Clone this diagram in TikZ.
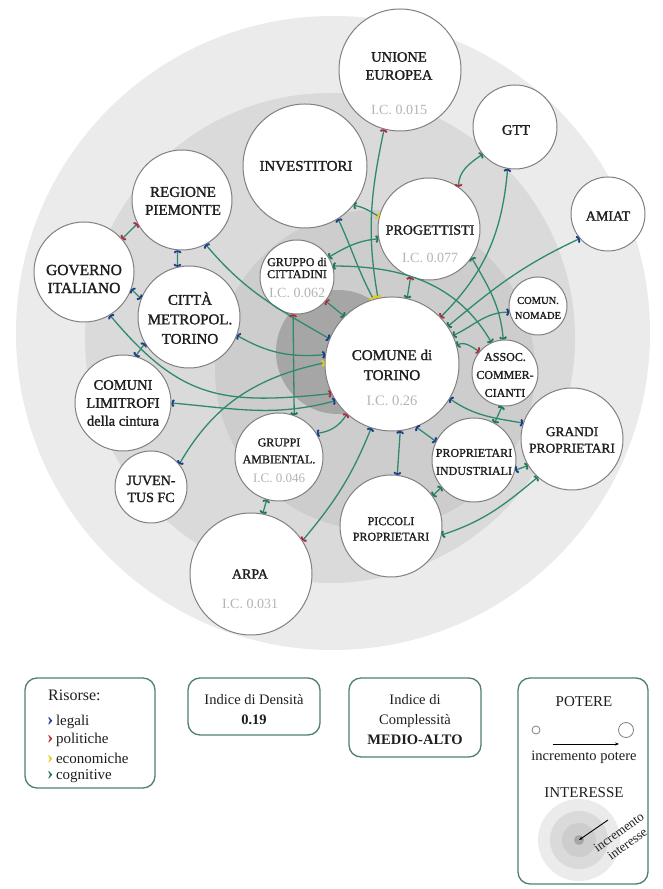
\documentclass[tikz,border=0pt]{standalone}
\usepackage{fontspec}
\setmainfont{Liberation Serif}
\newfontfamily\lblfont[FakeBold=1.4]{Liberation Serif}
\usetikzlibrary{arrows.meta}
\definecolor{bgA}{HTML}{EBEBEB}
\definecolor{bgB}{HTML}{DADADA}
\definecolor{bgC}{HTML}{CDCDCD}
\definecolor{bgD}{HTML}{A6A6A6}
\definecolor{lgreen}{HTML}{2F8A6D}
\definecolor{tipblue}{HTML}{1D3D8A}
\definecolor{tipred}{HTML}{B02A3E}
\definecolor{tipyellow}{HTML}{E9C81C}
\definecolor{tipgreen}{HTML}{23765C}
\definecolor{nodeborder}{HTML}{808080}
\definecolor{labelc}{HTML}{1E1E1E}
\definecolor{icgray}{HTML}{B4B4B4}
\definecolor{boxborder}{HTML}{4F7F73}
\newcommand\lblsz[2]{\lblfont\fontsize{#1}{#2}\selectfont}
\newcommand\txtsz[2]{\fontsize{#1}{#2}\selectfont}
\newcommand\chev[1]{{\fontsize{19}{18}\selectfont\bfseries\textcolor{#1}{›}}}
\tikzset{
  tB/.tip={Arc Barb[color=tipblue,length=2.6pt,width=8pt,line width=1.8pt]},
  tR/.tip={Arc Barb[color=tipred,length=2.6pt,width=8pt,line width=1.8pt]},
  tY/.tip={Arc Barb[color=tipyellow,length=2.6pt,width=8pt,line width=1.8pt]},
  tG/.tip={Arc Barb[color=tipgreen,length=2.6pt,width=8pt,line width=1.8pt]},
}
\begin{document}
\begin{tikzpicture}[x=1pt,y=1pt,
  conn/.style={draw=lgreen,line width=1.3pt},
  actor/.style={circle,draw=nodeborder,line width=1pt,fill=white,inner sep=0pt},
  lbl/.style={align=center,text=labelc,inner sep=0pt},
  ic/.style={text=icgray,inner sep=0pt,font=\txtsz{14}{16}},
  lbox/.style={draw=boxborder,line width=1.3pt,rounded corners=12pt,fill=white,inner sep=0pt},
  ltxt/.style={inner sep=0pt,text=labelc}]
\useasboundingbox (0,0) rectangle (662,889);
\fill[white] (0,0) rectangle (662,889);
% background rings
\fill[bgA] (333,556) circle[radius=317pt];
\fill[bgB] (330,551) circle[radius=245pt];
\fill[bgC] (375,519) circle[radius=160pt];
\fill[bgD] (338,537) circle[radius=62pt];
% actors
\node[actor,minimum size=122pt] (ue) at (400,819) {};
\node[actor,minimum size=84pt] (gtt) at (515,762) {};
\node[actor,minimum size=74pt] (amiat) at (608,675) {};
\node[actor,minimum size=124pt] (inv) at (305,723) {};
\node[actor,minimum size=102pt] (prog) at (429,660) {};
\node[actor,minimum size=100pt] (reg) at (182,689) {};
\node[actor,minimum size=100pt] (gov) at (84,617) {};
\node[actor,minimum size=102pt] (cit) at (189,572) {};
\node[actor,minimum size=74pt] (gcit) at (297,612) {};
\node[actor,minimum size=58pt] (nom) at (538,583) {};
\node[actor,minimum size=134pt] (com) at (392,525) {};
\node[actor,minimum size=66pt] (assoc) at (505,516) {};
\node[actor,minimum size=102pt] (grandi) at (572,450) {};
\node[actor,minimum size=84pt] (pind) at (474,429) {};
\node[actor,minimum size=102pt] (picc) at (391,363) {};
\node[actor,minimum size=96pt] (lim) at (123,486) {};
\node[actor,minimum size=72pt] (juv) at (151,402) {};
\node[actor,minimum size=88pt] (gamb) at (279,432) {};
\node[actor,minimum size=122pt] (arpa) at (251,315) {};
% labels
\node[lbl,font=\lblsz{14.5}{18}] (uet) at (399,823) {UNIONE\\EUROPEA};
\node[ic] (uei) at (399,779) {I.C. 0.015};
\node[lbl,font=\lblsz{14.5}{17}] (gttt) at (516,759) {GTT};
\node[lbl,font=\lblsz{14}{17}] (amiatt) at (608,673) {AMIAT};
\node[lbl,font=\lblsz{15}{18}] (invt) at (306,723) {INVESTITORI};
\node[lbl,font=\lblsz{14}{17}] (progt) at (430,659) {PROGETTISTI};
\node[ic] (progi) at (430,631) {I.C. 0.077};
\node[lbl,font=\lblsz{15}{18}] (regt) at (183,688) {REGIONE\\PIEMONTE};
\node[lbl,font=\lblsz{15.5}{18}] (govt) at (84,610) {GOVERNO\\ITALIANO};
\node[lbl,font=\lblsz{15}{19.5}] (citt) at (190,571) {CITTÀ\\METROPOL.\\TORINO};
\node[lbl,font=\lblsz{12}{12}] (gcitt) at (297,621) {GRUPPO di\\CITTADINI};
\node[ic] (gciti) at (297,596) {I.C. 0.062};
\node[lbl,font=\lblsz{10.5}{15}] (nomt) at (538,581) {COMUN.\\NOMADE};
\node[lbl,font=\lblsz{15}{20}] (comt) at (392,524) {COMUNE di\\TORINO};
\node[ic,font=\txtsz{14.5}{16}] (comi) at (392,488) {I.C. 0.26};
\node[lbl,font=\lblsz{12}{18}] (assoct) at (505,514) {ASSOC.\\COMMER-\\CIANTI};
\node[lbl,font=\lblsz{13.5}{16.5}] (grandit) at (572,449) {GRANDI\\PROPRIETARI};
\node[lbl,font=\lblsz{12}{18}] (pindt) at (474,427) {PROPRIETARI\\INDUSTRIALI};
\node[lbl,font=\lblsz{12}{15.5}] (picct) at (391,360) {PICCOLI\\PROPRIETARI};
\node[lbl,font=\lblsz{14.5}{18}] (limt) at (123,486) {COMUNI\\LIMITROFI\\della cintura};
\node[lbl,font=\lblsz{14}{17}] (juvt) at (151,400) {JUVEN-\\TUS FC};
\node[lbl,font=\lblsz{12}{17}] (gambt) at (279,438) {GRUPPI\\AMBIENTAL.};
\node[ic,font=\txtsz{13}{15}] (gambi) at (279,411) {I.C. 0.046};
\node[lbl,font=\lblsz{14}{17}] (arpat) at (250,315) {ARPA};
\node[ic] (arpai) at (250,285) {I.C. 0.031};
% connectors
\draw[conn,tR-tY] (ue.255) to[out=258,in=100] (com.102);
\draw[conn,tB-tY] (inv.302) to[out=-65,in=118] (com.106);
\draw[conn,tG-tY] (inv.321) to[out=-10,in=150] (prog.166);
\draw[conn,tG-tG] (prog.191) to[out=185,in=30] (gcit.32);
\draw[conn,tR-tG] (prog.249) -- (com.77);
\draw[conn,tG-tR] (gtt.220) to[out=215,in=90] (prog.55);
\draw[conn,tB-tR] (gtt.260) to[out=265,in=45] (com.44);
\draw[conn,tB-tG] (amiat.221) to[out=205,in=40] (com.34);
\draw[conn,tB-tG] (nom.192) to[out=180,in=25] (com.25);
\draw[conn,tG-tG] (prog.326) to[out=-60,in=95] (assoc.93);
\draw[conn,tG-tG] (gcit.17) to[out=0,in=120] (assoc.114);
\draw[conn,tG-tR] (com.16) to[out=30,in=150] (assoc.140);
\draw[conn,tB-tB] (com.329) to[out=-35,in=170] (grandi.162);
\draw[conn,tG-tG] (assoc.265) -- (pind.61);
\draw[conn,tB-tB] (com.291) -- (pind.154);
\draw[conn,tB-tB] (com.277) -- (picc.83);
\draw[conn,tB-tR] (com.252) to[out=248,in=50] (arpa.33);
\draw[conn,tB-tG] (pind.346) -- (grandi.211);
\draw[conn,tG-tG] (pind.220) -- (picc.36);
\draw[conn,tG-tG] (grandi.228) to[out=220,in=18] (picc.350);
\draw[conn,tR-tB] (com.228) to[bend left=25] (gamb.32);
\draw[conn,tB-tB] (lim.0) to[out=-5,in=195] (com.213);
\draw[conn,tB-tR] (gov.301) to[out=-50,in=186,looseness=1.2] (com.206);
\draw[conn,tB-tB] (cit.339) to[out=-30,in=185] (com.172);
\draw[conn,tB-tB] (reg.298) to[out=-50,in=150] (com.158);
\draw[conn,tB-tY] (juv.39) to[out=60,in=192] (com.179);
\draw[conn,tB-tB] (cit.211) -- (lim.75);
\draw[conn,tB-tB] (gov.340) -- (cit.159);
\draw[conn,tB-tB] (reg.265) -- (cit.103);
\draw[conn,tR-tR] (reg.208) -- (gov.41);
\draw[conn,tR-tG] (gcit.264) -- (gamb.70);
\draw[conn,tR-tG] (gcit.320) -- (com.135);
\draw[conn,tG-tG] (gamb.254) -- (arpa.79);
% legend: resources
\node[lbox,minimum width=130pt,minimum height=110pt] (res) at (90,156) {};
\node[ltxt,anchor=west,font=\txtsz{16}{18}] (rtit) at (48,194) {Risorse:};
\node[ltxt,anchor=west,font=\txtsz{15}{18}] (r1) at (47,167) {\chev{tipblue}\,legali};
\node[ltxt,anchor=west,font=\txtsz{15}{18}] (r2) at (47,149) {\chev{tipred}\,politiche};
\node[ltxt,anchor=west,font=\txtsz{15}{18}] (r3) at (47,131) {\chev{tipyellow}\,economiche};
\node[ltxt,anchor=west,font=\txtsz{15}{18}] (r4) at (47,113) {\chev{tipgreen}\,cognitive};
% legend: density
\node[lbox,minimum width=132pt,minimum height=57pt] (dens) at (254,182.5) {};
\node[ltxt,align=center,font=\txtsz{14.5}{20}] (denst) at (254,179) {Indice di Densità\\\textbf{0.19}};
% legend: complexity
\node[lbox,minimum width=132pt,minimum height=79pt] (compl) at (415,171.5) {};
\node[ltxt,align=center,font=\txtsz{14.5}{20}] (complt) at (415,169) {Indice di\\Complessità\\\textbf{MEDIO-ALTO}};
% legend: power / interest
\node[lbox,minimum width=130pt,minimum height=206pt] (powbox) at (583,108) {};
\node[ltxt,font=\txtsz{15}{18}] (pot) at (584,187) {POTERE};
\node[circle,draw=nodeborder,line width=0.8pt,minimum size=8pt,inner sep=0pt] (psm) at (536,159) {};
\node[circle,draw=nodeborder,line width=0.8pt,minimum size=15pt,inner sep=0pt] (pbg) at (626,159) {};
\coordinate (pa) at (553,145);
\coordinate (pb) at (619,145);
\draw[-{Stealth[length=4pt,width=3pt]},line width=0.7pt] (pa) -- (pb);
\node[ltxt,font=\txtsz{14.5}{17}] (incp) at (584,132) {incremento potere};
\node[ltxt,font=\txtsz{15}{18}] (inter) at (584,96) {INTERESSE};
\fill[bgA] (579,49) circle[radius=41pt];
\fill[bgB] (579,49) circle[radius=29pt];
\fill[bgC] (579,49) circle[radius=17pt];
\node[circle,fill=bgD,minimum size=10pt,inner sep=0pt] (core) at (579,49) {};
\coordinate (ia) at (608,69);
\draw[-{Stealth[length=4pt,width=3pt]},line width=0.9pt] (ia) -- (core.center);
\node[ltxt,rotate=36,align=center,font=\txtsz{13}{14.5}] (inct) at (623,51) {incremento\\interesse};
\end{tikzpicture}
\end{document}
